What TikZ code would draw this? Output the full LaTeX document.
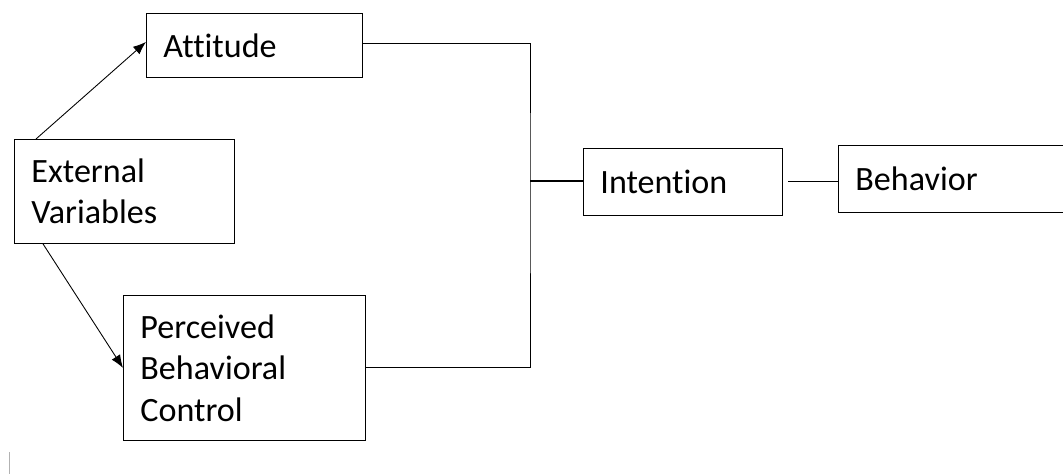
\documentclass[tikz,border=0pt]{standalone}
\usepackage{fontspec}
\setmainfont{Carlito}[Ligatures=NoCommon]
\usetikzlibrary{arrows.meta}

\begin{document}
\begin{tikzpicture}[x=0.02cm,y=-0.02cm,
  box/.style={draw, line width=0.5pt, anchor=north west, align=left,
    inner xsep=0.34cm, font=\fontsize{19.4}{23.6}\selectfont},
  link/.style={line width=0.5pt},
  tip/.style={link, -{Latex[length=0.26cm,width=0.2cm]}}]
\useasboundingbox (0,0) rectangle (1063,474);
% Boxes
\node[box, text width=3.64cm, minimum height=1.28cm] (att) at (146,13) {Attitude};
\node[box, text width=3.72cm, minimum height=2.08cm] (ext) at (14,139) {External\\Variables};
\node[box, text width=4.16cm, minimum height=2.9cm] (pbc) at (123,295) {Perceived\\Behavioral\\Control};
\node[box, text width=3.3cm, minimum height=1.34cm] (int) at (583,148) {Intention};
\node[box, text width=4.12cm, minimum height=1.34cm] (beh) at (838,145) {Behavior};
\coordinate (jn) at (530,181); % junction
% Arrows
\draw[tip] ([xshift=0.44cm]ext.north west) -- ([yshift=2pt]att.west);
\draw[tip] ([xshift=0.58cm]ext.south west) -- (pbc.west);
% Lines
\draw[link] ([yshift=1pt]att.east) -| (jn) |- (pbc.east);
\draw[link, line width=1pt] (jn) -- (jn -| int.west);
\draw[link] ([xshift=3pt]int.east) -- (int.east -| beh.west);
\draw[gray!60, line width=0.5pt] (9,452) -- (9,474); % mark
\end{tikzpicture}
\end{document}
